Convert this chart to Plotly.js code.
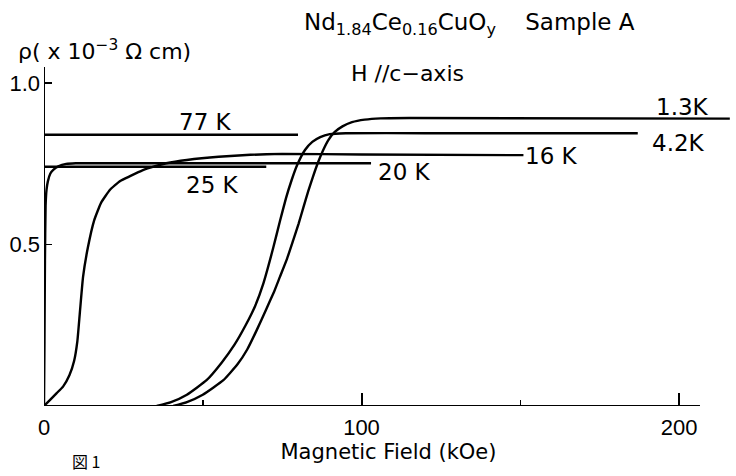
<!DOCTYPE html>
<html>
<head>
<meta charset="utf-8">
<script src="https://cdn.plot.ly/plotly-3.0.1.min.js"></script>
<style>html,body{margin:0;padding:0;background:#fff;}#chart{width:736px;height:476px;}</style>
</head>
<body>
<div id="chart"></div>
<script>
// Magnetic field (kOe) and resistivity (x10^-3 ohm cm) for each temperature
const field_77K = [0, 80];
const rho_77K   = [0.84, 0.84];

const field_25K = [0, 70];
const rho_25K   = [0.741, 0.741];

const field_20K = [0, 0.15, 0.3, 0.5, 0.8, 1.2, 2, 3, 4.5, 7, 10, 103];
const rho_20K   = [0, 0.2, 0.45, 0.62, 0.67, 0.695, 0.72, 0.732, 0.742, 0.75, 0.752, 0.752];

const field_16K = [0, 2, 4, 6, 8, 9.5, 10.5, 11.3, 12.3, 13.8, 15.8, 18, 20.8, 24, 27.1, 31, 35, 38.5, 45, 55, 65, 75, 100, 151];
const rho_16K   = [0, 0.02, 0.04, 0.06, 0.095, 0.14, 0.2, 0.29, 0.4, 0.49, 0.575, 0.63, 0.67, 0.697, 0.712, 0.73, 0.743, 0.752, 0.762, 0.772, 0.778, 0.781, 0.779, 0.777];

const field_4K = [35.5, 40, 45, 51.2, 56, 60, 63.5, 66.5, 69.1, 72.2, 74.3, 76.2, 78, 79.8, 82.2, 84.5, 87, 90, 95, 120, 187];
const rho_4K   = [0, 0.012, 0.035, 0.08, 0.135, 0.19, 0.25, 0.31, 0.38, 0.49, 0.572, 0.643, 0.7, 0.748, 0.793, 0.818, 0.833, 0.842, 0.845, 0.845, 0.845];

const field_1K = [40.7, 45, 50, 56.5, 61, 64, 67, 70, 72.5, 74.3, 76.5, 78.5, 80.2, 81.7, 83.2, 84.7, 86.2, 87.8, 89.5, 91.5, 94, 97, 101, 106, 115, 216];
const rho_1K   = [0, 0.012, 0.035, 0.08, 0.13, 0.175, 0.235, 0.3, 0.355, 0.4, 0.455, 0.514, 0.565, 0.615, 0.665, 0.71, 0.752, 0.79, 0.823, 0.848, 0.866, 0.879, 0.887, 0.891, 0.892, 0.89];

const seriesNames = ['77 K', '25 K', '20 K', '16 K', '4.2K', '1.3K'];
const labelX = [51, 53.2, 113.4, 159.7, 199.7, 201];
const labelY = [0.879, 0.684, 0.724, 0.774, 0.814, 0.926];

const xTickVals = [0, 100, 200];
const xTickText = ['0', '100', '200'];
const xMinorVals = [50, 150];
const yTickVals = [0.5, 1.0];
const yTickText = ['0.5', '1.0'];

const fields = [field_77K, field_25K, field_20K, field_16K, field_4K, field_1K];
const rhos = [rho_77K, rho_25K, rho_20K, rho_16K, rho_4K, rho_1K];

const traces = fields.map((f, i) => ({
  x: f, y: rhos[i], type: 'scatter', mode: 'lines', name: seriesNames[i],
  line: {color: '#000', width: 2.4, shape: 'spline', smoothing: 0.4},
  hoverinfo: 'skip'
}));

const annotations = seriesNames.map((n, i) => ({
  x: labelX[i], y: labelY[i], xref: 'x', yref: 'y', text: n, showarrow: false,
  xanchor: 'center', yanchor: 'middle', font: {size: 23, color: '#000'}
}));
annotations.push(
  {xref: 'paper', yref: 'paper', x: 0.618, y: 1.127, text: 'Nd<sub>1.84</sub>Ce<sub>0.16</sub>CuO<sub>y</sub>    Sample A', showarrow: false, xanchor: 'center', yanchor: 'middle', font: {size: 23, color: '#000'}},
  {xref: 'paper', yref: 'paper', x: 0.527, y: 0.982, text: 'H //c−axis', showarrow: false, xanchor: 'center', yanchor: 'middle', font: {size: 22, color: '#000'}},
  {xref: 'paper', yref: 'paper', x: 0.0885, y: 1.05, text: 'ρ( x 10<sup>−3</sup> Ω cm)', showarrow: false, xanchor: 'center', yanchor: 'middle', font: {size: 22, color: '#000'}},
  {xref: 'paper', yref: 'paper', x: 0.061, y: -0.203, text: '図 1', showarrow: false, xanchor: 'center', yanchor: 'bottom', font: {family: 'Noto Sans CJK JP', size: 16, color: '#000'}}
);

const layout = {
  width: 736, height: 476,
  margin: {l: 44, r: 3, t: 67, b: 70},
  paper_bgcolor: '#fff', plot_bgcolor: '#fff',
  showlegend: false,
  font: {family: 'DejaVu Sans', color: '#000', size: 22},
  xaxis: {
    range: [0, 217], showgrid: false, zeroline: false, showline: false,
    tickmode: 'array', tickvals: xTickVals, ticktext: xTickText,
    ticks: 'inside', ticklen: 13, tickwidth: 2, tickcolor: '#000',
    ticklabelstandoff: 6,
    tickfont: {family: 'Liberation Sans', size: 22, color: '#000'},
    minor: {tickmode: 'array', tickvals: xMinorVals, ticks: 'inside', ticklen: 6, tickwidth: 1.5, tickcolor: '#000', showgrid: false},
    title: {text: 'Magnetic Field (kOe)', font: {family: 'DejaVu Sans', size: 21, color: '#000'}, standoff: 4}
  },
  yaxis: {
    range: [0, 1.05], showgrid: false, zeroline: false, showline: false,
    tickmode: 'array', tickvals: yTickVals, ticktext: yTickText,
    ticks: 'inside', ticklen: 8, tickwidth: 1.5, tickcolor: '#000',
    ticklabelstandoff: 3,
    tickfont: {family: 'Liberation Sans', size: 22, color: '#000'}
  },
  shapes: [
    {type: 'line', xref: 'x', yref: 'y', x0: 0, x1: 206.6, y0: 0, y1: 0, line: {color: '#000', width: 2}},
    {type: 'line', xref: 'x', yref: 'y', x0: 0, x1: 0, y0: 0, y1: 1.05, line: {color: '#000', width: 2}}
  ],
  annotations: annotations
};

Plotly.newPlot('chart', traces, layout, {staticPlot: true, displayModeBar: false});
</script>
</body>
</html>
